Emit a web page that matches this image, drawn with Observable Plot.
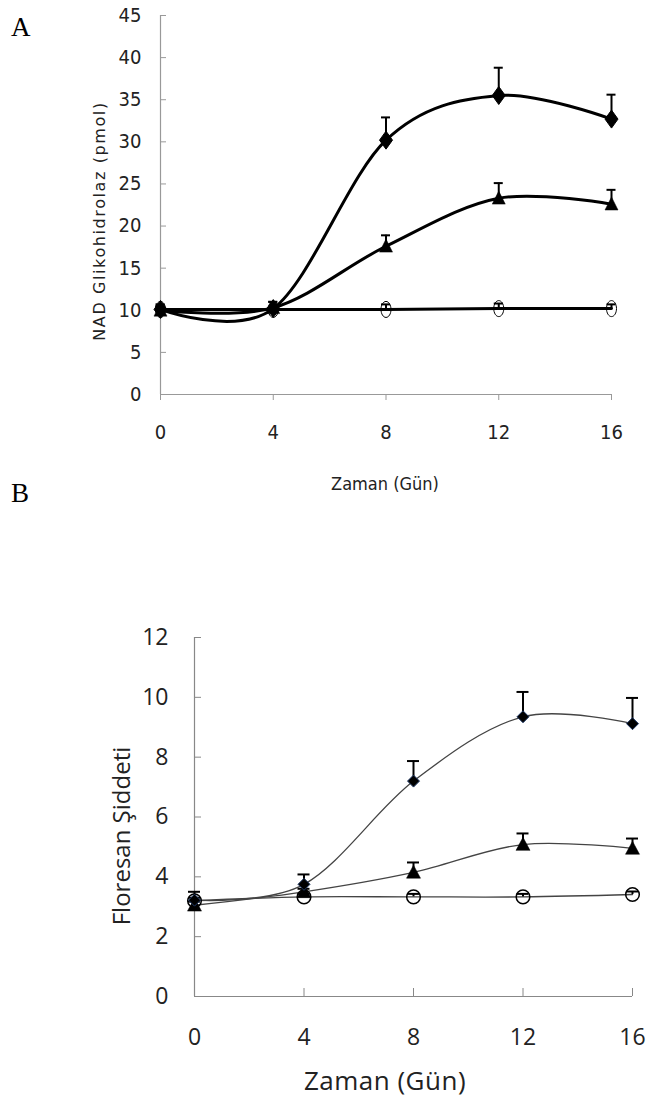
<!DOCTYPE html>
<html>
<head>
<meta charset="utf-8">
<script src="https://cdn.jsdelivr.net/npm/d3@7"></script>
<script src="https://cdn.jsdelivr.net/npm/@observablehq/plot@0.6"></script>
<style>
  html, body { margin: 0; padding: 0; background: #fff; }
  #wrap { position: relative; width: 646px; height: 1101px; background: #fff; overflow: hidden; }
  .abs { position: absolute; white-space: nowrap; line-height: 1; color: #111; }
  .panelLetter { font-family: "Liberation Serif", "Times New Roman", serif; font-size: 27px; color: #000; }
  .narrow { font-family: "Liberation Sans Narrow", "DejaVu Sans Condensed", "Arial Narrow", sans-serif; font-stretch: condensed; }
  .rot { transform: translate(-50%, -50%) rotate(-90deg); }
  .center { transform: translateX(-50%); }
  svg { position: absolute; left: 0; }
</style>
</head>
<body>
<div id="wrap">
  <div class="abs panelLetter" style="left:11px;top:14px;">A</div>
  <div class="abs panelLetter" style="left:11px;top:480px;">B</div>
  <div class="abs rot" style="left:100px;top:221px;font-family:'DejaVu Sans',sans-serif;font-size:16px;letter-spacing:1.6px;color:#222;">NAD Glikohidrolaz (pmol)</div>
  <div class="abs narrow center" style="left:385px;top:475px;font-size:18px;color:#222;">Zaman (Gün)</div>
  <div class="abs rot" style="left:121px;top:836px;font-family:'Open Sans',sans-serif;font-size:24px;color:#222;">Floresan Şiddeti</div>
  <div class="abs center" style="left:385px;top:1067px;font-family:'Open Sans',sans-serif;font-size:26px;letter-spacing:0.5px;color:#222;">Zaman (Gün)</div>
</div>
<script>
// ---------- data ----------
const days = [0, 4, 8, 12, 16];
const xTicks = [0, 4, 8, 12, 16];

// Panel A: NAD Glikohidrolaz (pmol)
const aYTicks = [0, 5, 10, 15, 20, 25, 30, 35, 40, 45];
const aDiamond     = [10.1, 10.2, 30.2, 35.5, 32.7];
const aDiamondErr  = [0.6, 0.8, 2.7, 3.3, 2.9];
const aTriangle    = [10.0, 10.3, 17.6, 23.3, 22.6];
const aTriangleErr = [0.5, 0.7, 1.3, 1.8, 1.7];
const aCircle      = [10.1, 10.1, 10.1, 10.2, 10.2];
const aCircleErr   = [0.3, 0.3, 0.6, 0.6, 0.5];

// Panel B: Floresan Şiddeti
const bYTicks = [0, 2, 4, 6, 8, 10, 12];
const bDiamond     = [3.22, 3.75, 7.2, 9.35, 9.12];
const bDiamondErr  = [0.28, 0.33, 0.67, 0.83, 0.86];
const bTriangle    = [3.05, 3.5, 4.15, 5.08, 4.95];
const bTriangleErr = [0.12, 0.1, 0.33, 0.37, 0.33];
const bCircle      = [3.2, 3.33, 3.33, 3.33, 3.41];
const bCircleErr   = [0.1, 0.1, 0.1, 0.1, 0.1];

// ---------- helpers ----------
function rows(vals, errs, s) {
  return days.map((d, i) => ({ day: d, v: vals[i], top: vals[i] + errs[i], s }));
}
function diamondSym(w, h) {
  return { draw(ctx) { ctx.moveTo(0, -h); ctx.lineTo(w, 0); ctx.lineTo(0, h); ctx.lineTo(-w, 0); ctx.closePath(); } };
}
function triSym(w, h) {
  return { draw(ctx) { ctx.moveTo(0, -h * 0.55); ctx.lineTo(w, h * 0.45); ctx.lineTo(-w, h * 0.45); ctx.closePath(); } };
}
function ellipseSym(rx, ry) {
  const k = 0.5523;
  return { draw(ctx) {
    ctx.moveTo(rx, 0);
    ctx.bezierCurveTo(rx, ry * k, rx * k, ry, 0, ry);
    ctx.bezierCurveTo(-rx * k, ry, -rx, ry * k, -rx, 0);
    ctx.bezierCurveTo(-rx, -ry * k, -rx * k, -ry, 0, -ry);
    ctx.bezierCurveTo(rx * k, -ry, rx, -ry * k, rx, 0);
    ctx.closePath();
  } };
}

function panel(cfg) {
  const dR = rows(cfg.diamond, cfg.diamondErr, "diamond");
  const tR = rows(cfg.triangle, cfg.triangleErr, "triangle");
  const cR = rows(cfg.circle, cfg.circleErr, "circle");
  const all = [...dR, ...tR, ...cR];
  const svg = Plot.plot({
    width: 646,
    height: cfg.height,
    marginTop: cfg.mt, marginBottom: cfg.mb, marginLeft: cfg.ml, marginRight: cfg.mr,
    x: { domain: [0, 16] },
    y: { domain: cfg.yDomain },
    style: { fontFamily: cfg.font, fontSize: cfg.fontSize + "px", color: "#222", background: "transparent", overflow: "visible" },
    marks: [
      Plot.ruleX([0], { stroke: cfg.axisColor, strokeWidth: 1.2 }),
      Plot.ruleY([0], { stroke: cfg.axisColor, strokeWidth: 1.2 }),
      Plot.axisX(xTicks, { label: null, tickSize: cfg.xTickSize, tickPadding: cfg.xTickPadding, stroke: cfg.axisColor, fill: "#222", fontSize: cfg.fontSize, tickFormat: d => String(d) }),
      Plot.axisY(cfg.yTicks, { label: null, tickSize: cfg.yTickSize, tickPadding: cfg.yTickPadding, stroke: cfg.axisColor, fill: "#222", fontSize: cfg.fontSize, tickFormat: d => String(d) }),
      Plot.line(all, { x: "day", y: "v", z: "s", curve: "cardinal", stroke: cfg.lineColor, strokeWidth: cfg.lineWidth }),
      Plot.ruleX(all, { x: "day", y1: "v", y2: "top", stroke: "#000", strokeWidth: cfg.errWidth }),
      Plot.ruleY(all, { y: "top", x1: "day", x2: "day", insetLeft: -cfg.cap, insetRight: -cfg.cap, stroke: "#000", strokeWidth: cfg.errWidth }),
      Plot.dot(cR, { x: "day", y: "v", symbol: ellipseSym(cfg.circleRx, cfg.circleRy), fill: "none", stroke: "#000", strokeWidth: cfg.circleStroke }),
      Plot.dot(tR, { x: "day", y: "v", symbol: triSym(cfg.triW, cfg.triH), fill: "#000", stroke: "#000", strokeWidth: 0.5 }),
      Plot.dot(dR, { x: "day", y: "v", symbol: diamondSym(cfg.diaW, cfg.diaH), fill: "#000", stroke: cfg.diaStroke, strokeWidth: 1 })
    ]
  });
  svg.style.top = cfg.top + "px";
  return svg;
}

const wrap = document.getElementById("wrap");

wrap.appendChild(panel({
  top: 0, height: 460, mt: 15, mb: 66, ml: 160, mr: 35,
  yDomain: [0, 45], yTicks: aYTicks,
  font: "'Liberation Sans Narrow', 'DejaVu Sans Condensed', 'Arial Narrow', sans-serif", fontSize: 20,
  axisColor: "#999",
  xTickSize: 6, xTickPadding: 24,
  yTickSize: -6, yTickPadding: 25,
  lineColor: "#000", lineWidth: 3,
  errWidth: 2, cap: 4.5,
  diamond: aDiamond, diamondErr: aDiamondErr,
  triangle: aTriangle, triangleErr: aTriangleErr,
  circle: aCircle, circleErr: aCircleErr,
  circleRx: 5, circleRy: 8, circleStroke: 1,
  triW: 6.5, triH: 13, diaW: 6.5, diaH: 9, diaStroke: "#000"
}));

wrap.appendChild(panel({
  top: 560, height: 500, mt: 77, mb: 64, ml: 194, mr: 14,
  yDomain: [0, 12], yTicks: bYTicks,
  font: "'Open Sans', sans-serif", fontSize: 23,
  axisColor: "#888",
  xTickSize: -8, xTickPadding: 40,
  yTickSize: -7, yTickPadding: 33,
  lineColor: "#444", lineWidth: 1.3,
  errWidth: 2, cap: 6,
  diamond: bDiamond, diamondErr: bDiamondErr,
  triangle: bTriangle, triangleErr: bTriangleErr,
  circle: bCircle, circleErr: bCircleErr,
  circleRx: 6.8, circleRy: 6.8, circleStroke: 1.5,
  triW: 7, triH: 13, diaW: 6, diaH: 6, diaStroke: "#1f3864"
}));
</script>
</body>
</html>
